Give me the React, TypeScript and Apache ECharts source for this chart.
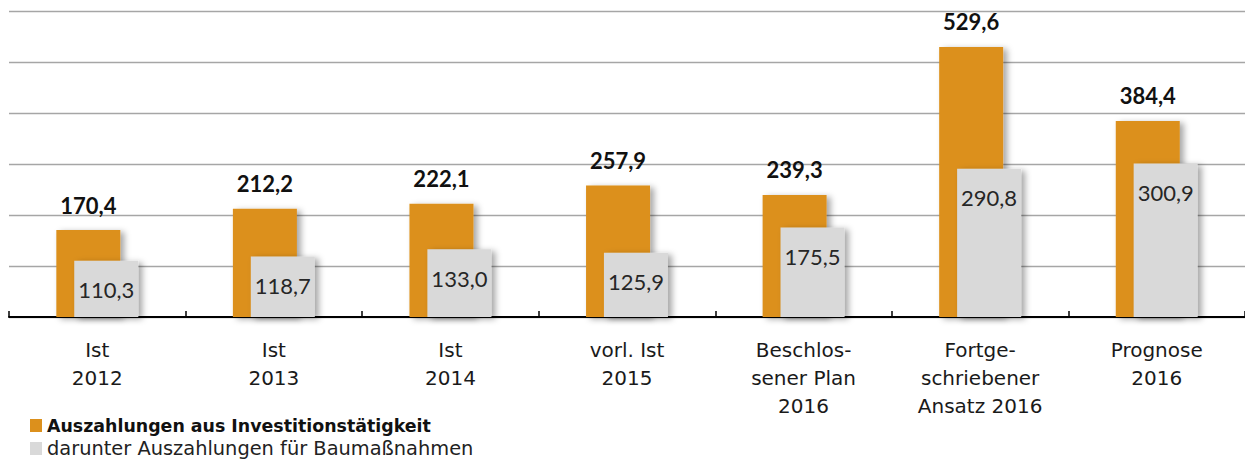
import React, { useEffect, useRef } from "react";
import * as echarts from "echarts";

const categories = [
  "Ist\n2012",
  "Ist\n2013",
  "Ist\n2014",
  "vorl. Ist\n2015",
  "Beschlos-\nsener Plan\n2016",
  "Fortge-\nschriebener\nAnsatz 2016",
  "Prognose\n2016",
];
const investValues = [170.4, 212.2, 222.1, 257.9, 239.3, 529.6, 384.4];
const bauValues = [110.3, 118.7, 133.0, 125.9, 175.5, 290.8, 300.9];
const seriesNames = [
  "Auszahlungen aus Investitionstätigkeit",
  "darunter Auszahlungen für Baumaßnahmen",
];
const yTicks = { min: 0, max: 600, interval: 100 };

const TEXT_FONT = "DejaVu Sans";
const NUM_FONT = "Lato";
const fmt = (v: number) => v.toFixed(1).replace(".", ",");

export default function App() {
  const ref = useRef<HTMLDivElement>(null);
  useEffect(() => {
    if (!ref.current) return;
    const chart = echarts.init(ref.current, undefined, { renderer: "svg" });
    const shadow = {
      shadowColor: "rgba(0,0,0,0.35)",
      shadowBlur: 6,
      shadowOffsetX: 4,
      shadowOffsetY: 2,
    };
    chart.setOption({
      animation: false,
      backgroundColor: "#ffffff",
      grid: { left: 9, right: 0, top: 11, bottom: 148, containLabel: false },
      legend: [
        {
          data: [seriesNames[0]],
          left: 30,
          top: 414,
          padding: 0,
          itemWidth: 12,
          itemHeight: 13,
          itemGap: 8,
          icon: "rect",
          selectedMode: false,
          textStyle: {
            fontFamily: TEXT_FONT,
            fontSize: 17.4,
            fontWeight: "bold",
            color: "#111",
            lineHeight: 23,
          },
        },
        {
          data: [seriesNames[1]],
          left: 30,
          top: 437,
          padding: 0,
          itemWidth: 12,
          itemHeight: 13,
          icon: "rect",
          selectedMode: false,
          textStyle: {
            fontFamily: TEXT_FONT,
            fontSize: 19.4,
            color: "#222",
            lineHeight: 23,
          },
        },
      ],
      xAxis: {
        type: "category",
        data: categories,
        axisLine: { lineStyle: { color: "#000", width: 2 } },
        axisTick: { show: true, inside: true, length: 6, lineStyle: { color: "#000", width: 1.5 } },
        axisLabel: {
          interval: 0,
          margin: 19,
          fontFamily: TEXT_FONT,
          fontSize: 20,
          lineHeight: 28,
          color: "#1a1a1a",
        },
      },
      yAxis: {
        type: "value",
        min: yTicks.min,
        max: yTicks.max,
        interval: yTicks.interval,
        axisLine: { show: false },
        axisTick: { show: false },
        axisLabel: { show: false },
        splitLine: { lineStyle: { color: "#a6a6a6", width: 1.3 } },
      },
      series: [
        {
          name: seriesNames[0],
          type: "bar",
          data: investValues,
          barWidth: 64,
          barGap: "-72%",
          itemStyle: { color: "#DC901C", ...shadow },
          label: {
            show: true,
            position: "top",
            distance: 14,
            formatter: (p: any) => fmt(p.value),
            fontFamily: NUM_FONT,
            fontSize: 22,
            fontWeight: "bold",
            color: "#111",
          },
        },
        {
          name: seriesNames[1],
          type: "bar",
          data: bauValues,
          barWidth: 64,
          itemStyle: { color: "#D9D9D9", ...shadow },
          label: {
            show: true,
            position: "insideTop",
            distance: 18,
            formatter: (p: any) => fmt(p.value),
            fontFamily: NUM_FONT,
            fontSize: 22,
            color: "#262626",
          },
        },
      ],
    });
    return () => chart.dispose();
  }, []);
  return (
    <div
      ref={ref}
      style={{ position: "fixed", left: 0, top: 0, width: 1245, height: 465 }}
    />
  );
}
